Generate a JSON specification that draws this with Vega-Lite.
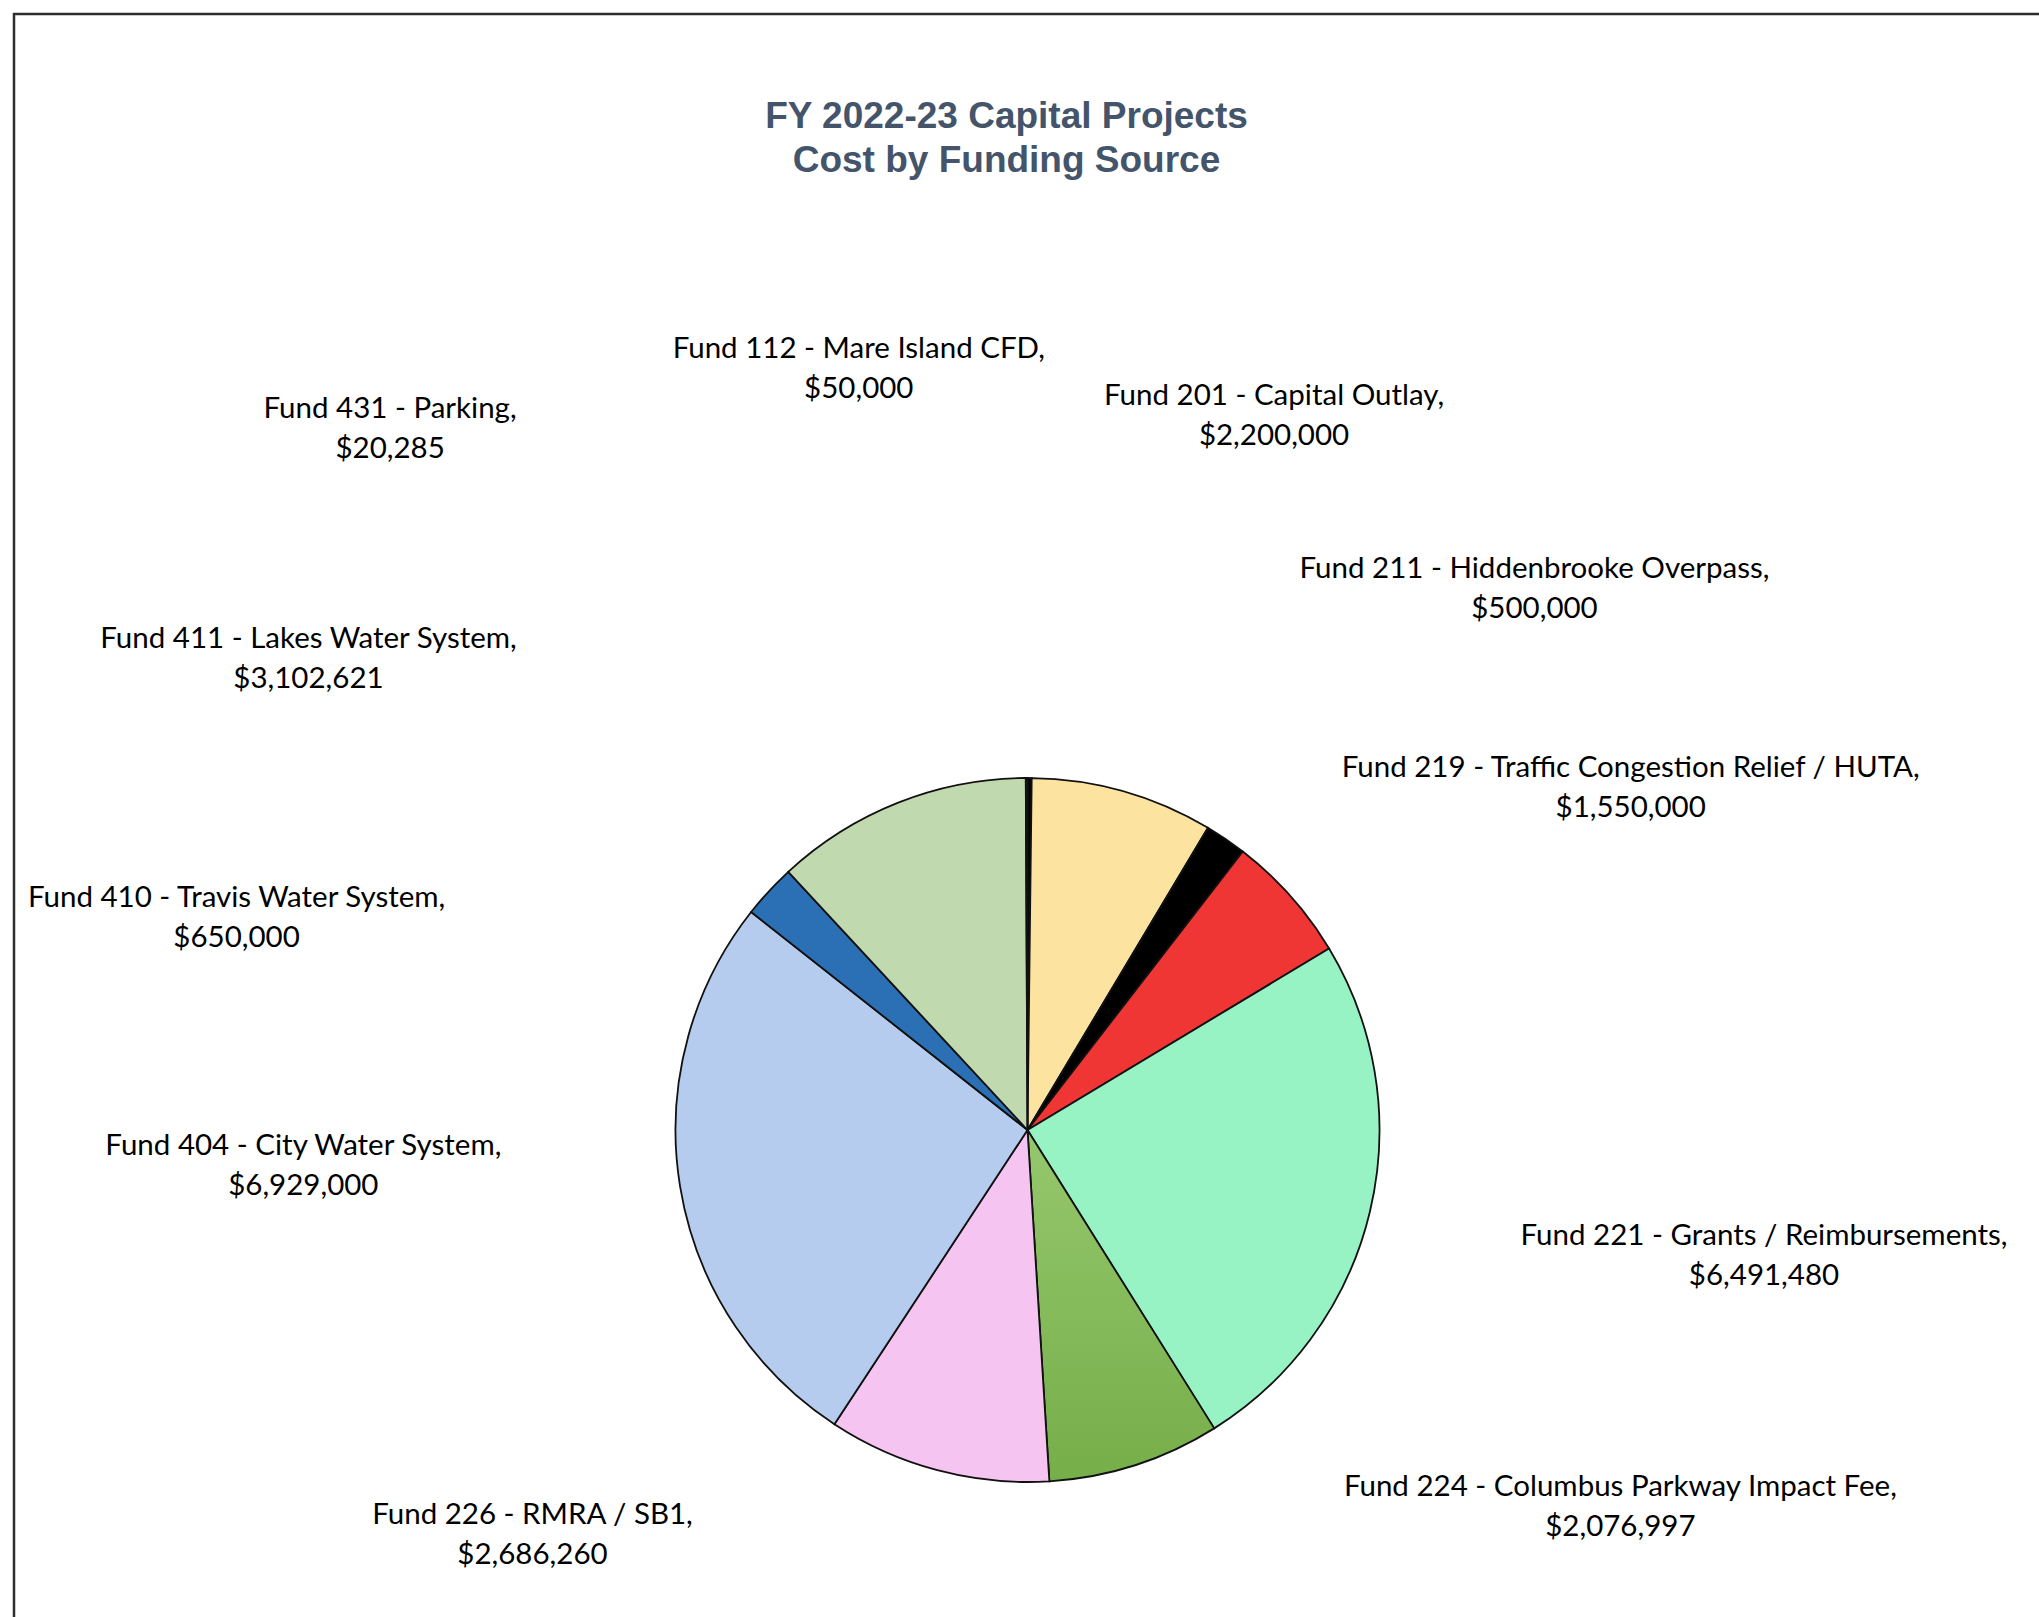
{
  "$schema": "https://vega.github.io/schema/vega-lite/v6.json",
  "usermeta": {"embedOptions": {"actions": false}},
  "autosize": {"type": "fit", "contains": "padding"},
  "width": 2039,
  "height": 1617,
  "padding": {"left": 14, "top": 14, "right": -2, "bottom": -629},
  "background": "white",
  "view": {"stroke": "#2e2e2e", "strokeWidth": 2.5, "fill": "white"},
  "config": {"view": {"stroke": "#2e2e2e", "strokeWidth": 2.5}},
  "title": {
    "text": ["FY 2022-23 Capital Projects", "Cost by Funding Source"],
    "font": "Liberation Sans",
    "fontSize": 37,
    "fontWeight": "bold",
    "color": "#44546A",
    "anchor": "middle",
    "offset": -166,
    "lineHeight": 44,
    "dx": -21
  },
  "params": [
    {
      "name": "lab",
      "value": {
        "Fund 112 - Mare Island CFD": [780, -0.224],
        "Fund 201 - Capital Outlay": [756, 0.057],
        "Fund 211 - Hiddenbrooke Overpass": [742, 0.154],
        "Fund 219 - Traffic Congestion Relief / HUTA": [694, 0.21],
        "Fund 221 - Grants / Reimbursements": [747, -0.067],
        "Fund 224 - Columbus Parkway Impact Fee": [702, -0.695],
        "Fund 226 - RMRA / SB1": [639, 0.627],
        "Fund 404 - City Water System": [725, 0.113],
        "Fund 410 - Travis Water System": [819, -0.483],
        "Fund 411 - Lakes Water System": [860, -0.614],
        "Fund 431 - Parking": [948, -0.735]
      }
    }
  ],
  "data": {
    "values": [
      {"fund": "Fund 112 - Mare Island CFD", "amount": 50000},
      {"fund": "Fund 201 - Capital Outlay", "amount": 2200000},
      {"fund": "Fund 211 - Hiddenbrooke Overpass", "amount": 500000},
      {"fund": "Fund 219 - Traffic Congestion Relief / HUTA", "amount": 1550000},
      {"fund": "Fund 221 - Grants / Reimbursements", "amount": 6491480},
      {"fund": "Fund 224 - Columbus Parkway Impact Fee", "amount": 2076997},
      {"fund": "Fund 226 - RMRA / SB1", "amount": 2686260},
      {"fund": "Fund 404 - City Water System", "amount": 6929000},
      {"fund": "Fund 410 - Travis Water System", "amount": 650000},
      {"fund": "Fund 411 - Lakes Water System", "amount": 3102621},
      {"fund": "Fund 431 - Parking", "amount": 20285}
    ]
  },
  "encoding": {
    "theta": {"field": "amount", "type": "quantitative", "stack": true},
    "order": {"field": "fund", "type": "ordinal"}
  },
  "layer": [
    {
      "mark": {"type": "arc", "outerRadius": 352, "stroke": "#111111", "strokeWidth": 1.8},
      "encoding": {
        "fill": {
          "field": "fund",
          "type": "nominal",
          "legend": null,
          "condition": {
            "test": "datum.fund === 'Fund 224 - Columbus Parkway Impact Fee'",
            "value": {
              "gradient": "linear",
              "x1": 0, "y1": 0, "x2": 0, "y2": 1,
              "stops": [
                {"offset": 0, "color": "#95C86D"},
                {"offset": 1, "color": "#76AE49"}
              ]
            }
          },
          "scale": {
            "domain": [
              "Fund 112 - Mare Island CFD",
              "Fund 201 - Capital Outlay",
              "Fund 211 - Hiddenbrooke Overpass",
              "Fund 219 - Traffic Congestion Relief / HUTA",
              "Fund 221 - Grants / Reimbursements",
              "Fund 224 - Columbus Parkway Impact Fee",
              "Fund 226 - RMRA / SB1",
              "Fund 404 - City Water System",
              "Fund 410 - Travis Water System",
              "Fund 411 - Lakes Water System",
              "Fund 431 - Parking"
            ],
            "range": [
              "#000000",
              "#FCE4A0",
              "#000000",
              "#F03535",
              "#97F3C4",
              "#86BB5B",
              "#F6C4F1",
              "#B5CCEE",
              "#2B6FB5",
              "#C1D9AE",
              "#000000"
            ]
          }
        }
      }
    },
    {
      "mark": {
        "type": "text",
        "font": "Lato",
        "fontSize": 29.5,
        "color": "#000000",
        "align": "center",
        "baseline": "middle",
        "lineHeight": 40,
        "dy": -19,
        "radius": {"expr": "lab[datum.fund][0]"},
        "thetaOffset": {"expr": "lab[datum.fund][1]"},
        "text": {"expr": "[datum.fund + ',', format(datum.amount, '$,')]"}
      },
      "encoding": {"detail": {"field": "fund"}}
    }
  ]
}
